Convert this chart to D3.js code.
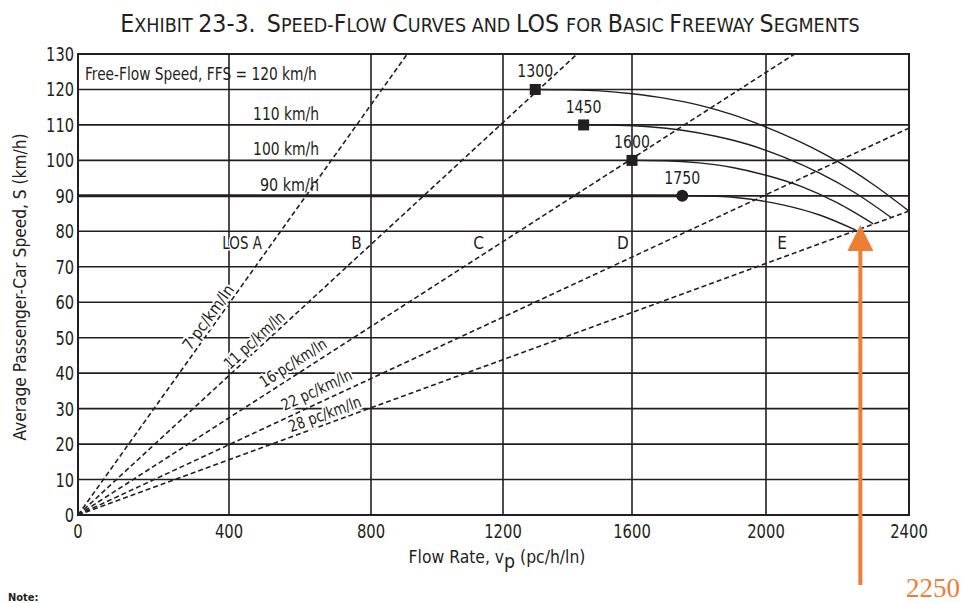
<!DOCTYPE html>
<html><head><meta charset="utf-8">
<script src="https://cdn.jsdelivr.net/npm/d3@7"></script>
<style>
html,body{margin:0;padding:0;background:#fff;overflow:hidden}
text{font-family:"Liberation Sans Narrow","Arial Narrow","DejaVu Sans Condensed",sans-serif;fill:#231f20}
</style></head><body>
<svg id="c" width="971" height="603"></svg>
<script>
// ---------- data ----------
const flowTicks  = [0, 400, 800, 1200, 1600, 2000, 2400];
const speedTicks = [0, 10, 20, 30, 40, 50, 60, 70, 80, 90, 100, 110, 120, 130];

const ffsValues = [120, 110, 100, 90];
const ffsLabels = ["Free-Flow Speed, FFS = 120 km/h", "110 km/h", "100 km/h", "90 km/h"];
const breakpointFlows = [1300, 1450, 1600, 1750];

const flow120  = [1300, 1400, 1500, 1600, 1700, 1800, 1900, 2000, 2100, 2200, 2300, 2400];
const speed120 = [120, 119.9, 119.6, 118.8, 117.5, 115.6, 112.9, 109.4, 105.0, 99.7, 93.2, 85.7];
const flow110  = [1450, 1550, 1650, 1750, 1850, 1950, 2050, 2150, 2250, 2350];
const speed110 = [110, 109.9, 109.5, 108.5, 106.8, 104.4, 100.9, 96.4, 90.8, 83.9];
const flow100  = [1600, 1700, 1800, 1900, 2000, 2100, 2200, 2300];
const speed100 = [100, 99.9, 99.3, 98.0, 95.8, 92.6, 88.0, 82.1];
const flow90   = [0, 1750, 1850, 1950, 2050, 2150, 2250];
const speed90  = [90, 90, 89.9, 89.1, 87.4, 84.6, 80.4];

const densities      = [7, 11, 16, 22, 28];
const densityLabels  = ["7 pc/km/ln", "11 pc/km/ln", "16 pc/km/ln", "22 pc/km/ln", "28 pc/km/ln"];
const densityEndFlow  = [910, 1430, 2080, 2400, 2400];
const densityEndSpeed = [130, 130, 130, 109.1, 85.7];
const densityLabelFlow  = [347, 473, 582, 648, 671];
const densityLabelSpeed = [55.6, 49.1, 42.7, 35.0, 28.2];

const losLabels = ["LOS A", "B", "C", "D", "E"];
const losFlow   = [437, 759, 1126, 1572, 2045];
const losSpeed  = 75.0;

const capacityFlow = 2250, capacitySpeed = 80.4;

// ---------- layout ----------
const svg = d3.select("#c");
const x = d3.scaleLinear().domain(flowTicks).range([78, 229, 371, 503, 632, 766, 909]);
const y = d3.scaleLinear().domain([0, 130]).range([515, 54]);
const ink = "#231f20";

function fitX(sel, target) {
  const n = sel.node();
  const w = n.getBBox().width;
  const ax = +sel.attr("x") || 0;
  sel.attr("transform", `translate(${ax},0) scale(${target / w},1) translate(${-ax},0)`);
}

// title
const titleParts = [["E",1],["XHIBIT ",0],["23-3.",1],["  ",0],["S",1],["PEED-",0],["F",1],["LOW ",0],
  ["C",1],["URVES AND ",0],["LOS ",1],["FOR ",0],["B",1],["ASIC ",0],["F",1],["REEWAY ",0],["S",1],["EGMENTS",0]];
const title = svg.append("text").attr("x", 490).attr("y", 32).attr("text-anchor", "middle")
  .style("white-space", "pre").attr("fill", "#333");
title.selectAll("tspan").data(titleParts).join("tspan")
  .attr("font-size", d => d[1] ? 24 : 19).text(d => d[0]);
fitX(title, 740);

// grid
const g = svg.append("g");
g.selectAll(".hg").data(speedTicks.slice(1, -1)).join("line")
  .attr("x1", x(0)).attr("x2", x(2400)).attr("y1", d => y(d)).attr("y2", d => y(d))
  .attr("stroke", ink).attr("stroke-width", 1.6);
g.selectAll(".vg").data(flowTicks.slice(1, -1)).join("line")
  .attr("y1", y(0)).attr("y2", y(130)).attr("x1", d => x(d)).attr("x2", d => x(d))
  .attr("stroke", ink).attr("stroke-width", 1.6);

// density lines
const dl = d3.line().x(d => x(d[0])).y(d => y(d[1]));
densities.forEach((d, i) => {
  g.append("path").attr("d", dl([[0, 0], [densityEndFlow[i], densityEndSpeed[i]]]))
    .attr("fill", "none").attr("stroke", ink).attr("stroke-width", 1.6).attr("stroke-dasharray", "5,3");
});

// speed-flow curves
const cl = d3.line().x(d => x(d[0])).y(d => y(d[1])).curve(d3.curveMonotoneX);
[[flow120, speed120], [flow110, speed110], [flow100, speed100], [flow90, speed90]].forEach(([f, s]) => {
  g.append("path").attr("d", cl(f.map((v, j) => [v, s[j]])))
    .attr("fill", "none").attr("stroke", ink).attr("stroke-width", 1.4);
});
// heavy 90 km/h flat part
g.append("path").attr("d", dl([[flow90[0], speed90[0]], [flow90[1], speed90[1]]]))
  .attr("stroke", ink).attr("stroke-width", 3);

// frame
g.append("rect").attr("x", x(0)).attr("y", y(130)).attr("width", x(2400) - x(0)).attr("height", y(0) - y(130))
  .attr("fill", "none").attr("stroke", ink).attr("stroke-width", 2);

// markers
breakpointFlows.forEach((f, i) => {
  if (i < 3) {
    g.append("rect").attr("x", x(f) - 5.5).attr("y", y(ffsValues[i]) - 5.5).attr("width", 11).attr("height", 11).attr("fill", ink);
  } else {
    g.append("circle").attr("cx", x(f)).attr("cy", y(ffsValues[i])).attr("r", 6).attr("fill", ink);
  }
  const t = g.append("text").attr("x", x(f)).attr("y", y(ffsValues[i]) - 12).attr("text-anchor", "middle")
    .attr("font-size", 17).text(String(f));
  fitX(t, 36);
});

// FFS labels
ffsLabels.forEach((lab, i) => {
  if (i === 0) {
    const t = g.append("text").attr("x", x(0) + 7).attr("y", y(ffsValues[i]) - 9).attr("font-size", 17).text(lab);
    fitX(t, 232);
  } else {
    const t = g.append("text").attr("x", 319).attr("y", y(ffsValues[i]) - 5).attr("text-anchor", "end")
      .attr("font-size", 17).text(lab);
    fitX(t, i === 3 ? 59 : 66);
  }
});

// LOS labels
losLabels.forEach((lab, i) => {
  const t = g.append("text").attr("x", x(losFlow[i])).attr("y", y(losSpeed)).attr("text-anchor", "middle")
    .attr("font-size", 17).text(lab)
    .attr("stroke", "#fff").attr("stroke-width", 3).attr("paint-order", "stroke");
  if (i === 0) fitX(t, 40);
});

// density labels
densities.forEach((d, i) => {
  const ang = Math.atan2(y(densityEndSpeed[i]) - y(0), x(densityEndFlow[i]) - x(0)) * 180 / Math.PI;
  g.append("text").attr("transform", `translate(${x(densityLabelFlow[i])},${y(densityLabelSpeed[i])}) rotate(${ang})`)
    .attr("text-anchor", "middle").attr("dominant-baseline", "middle")
    .attr("font-size", 16).attr("textLength", 76).attr("lengthAdjust", "spacingAndGlyphs")
    .attr("stroke", "#fff").attr("stroke-width", 4).attr("paint-order", "stroke")
    .text(densityLabels[i]);
});

// tick labels
svg.selectAll(".yt").data(speedTicks).join("text")
  .attr("x", 74).attr("y", d => y(d) + 7).attr("text-anchor", "end").attr("font-size", 20)
  .text(d => d).attr("textLength", d => String(d).length * 9.3).attr("lengthAdjust", "spacingAndGlyphs");
svg.selectAll(".xt").data(flowTicks).join("text")
  .attr("x", d => x(d)).attr("y", 538).attr("text-anchor", "middle").attr("font-size", 20)
  .text(d => d).attr("textLength", d => String(d).length * 9.4).attr("lengthAdjust", "spacingAndGlyphs");

// axis titles
const xt = svg.append("text").attr("x", 497).attr("y", 563).attr("text-anchor", "middle").attr("font-size", 18);
xt.append("tspan").text("Flow Rate, v");
xt.append("tspan").attr("dy", 5).attr("font-size", 20).text("p");
xt.append("tspan").attr("dy", -5).text(" (pc/h/ln)");
fitX(xt, 177);

svg.append("text").attr("transform", "translate(26,287) rotate(-90)").attr("text-anchor", "middle")
  .attr("font-size", 18).attr("textLength", 307).attr("lengthAdjust", "spacingAndGlyphs")
  .text("Average Passenger-Car Speed, S (km/h)");

// note (at the bottom edge)
svg.append("text").attr("x", 8).attr("y", 601).attr("font-size", 11).attr("font-weight", "bold").text("Note:");

// orange arrow annotation
const orange = "#ee7d36";
const ax = x(capacityFlow) + 5, tipY = y(capacitySpeed) - 5;
svg.append("line").attr("x1", ax).attr("x2", ax).attr("y1", 585).attr("y2", tipY + 22)
  .attr("stroke", orange).attr("stroke-width", 4);
svg.append("path").attr("d", `M${ax},${tipY} L${ax - 13},${tipY + 26} L${ax + 13},${tipY + 26} Z`).attr("fill", orange);
svg.append("text").attr("x", 906).attr("y", 597)
  .style("font-family", "'Liberation Serif','Times New Roman',serif")
  .attr("font-size", 27).style("fill", orange).text(String(capacityFlow));
</script>
</body></html>
